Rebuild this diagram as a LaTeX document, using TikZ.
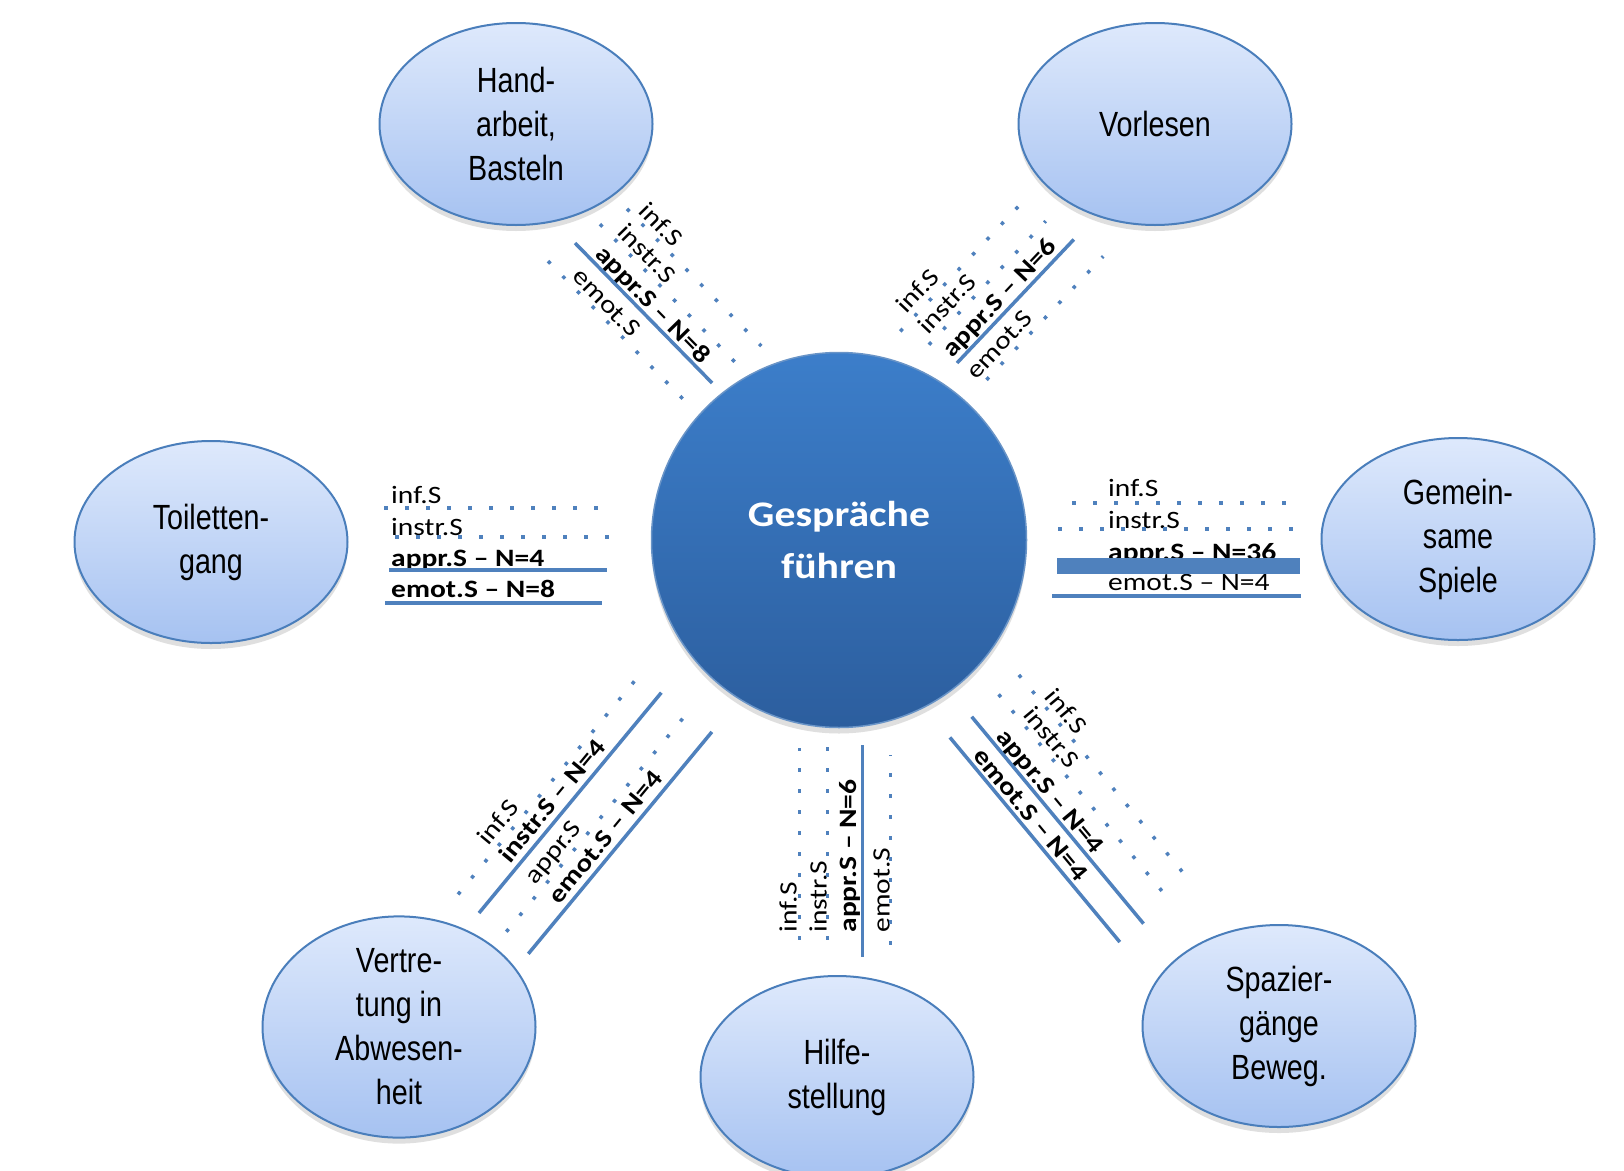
\documentclass[tikz,border=0pt]{standalone}
\usepackage{fontspec}
\usepackage{xcolor}
\usetikzlibrary{shapes,positioning,shadows}
\newfontfamily\ellfont[FakeStretch=0.82]{Liberation Sans}
\newfontfamily\lblfont[FakeStretch=1.18]{Carlito}
\newfontfamily\ctrfont[FakeStretch=1.16]{Carlito}
\definecolor{linie}{RGB}{79,129,189}
\definecolor{rand}{RGB}{74,126,187}
\definecolor{elloben}{RGB}{222,233,252}
\definecolor{ellunten}{RGB}{166,194,241}
\definecolor{kreisoben}{RGB}{60,126,202}
\definecolor{kreisunten}{RGB}{44,94,158}

\tikzset{
  taetigkeit/.style={ellipse, draw=rand, line width=2pt,
    top color=elloben, bottom color=ellunten,
    minimum width=273pt, minimum height=202pt, inner sep=0pt,
    align=center, font=\ellfont\fontsize{35}{44}\selectfont,
    drop shadow={opacity=0.25, shadow xshift=0pt, shadow yshift=-6pt}},
  punktlinie/.style={linie, line width=3.5pt, dash pattern=on 3.5pt off 17.5pt},
  volllinie/.style={linie, line width=3.5pt},
  balken/.style={linie, line width=16pt},
  beschr/.style={anchor=base west, inner sep=0pt,
    font=\lblfont\fontsize{25}{30}\selectfont},
  fett/.style={beschr, font=\lblfont\bfseries\fontsize{25}{30}\selectfont}
}

\begin{document}
\begin{tikzpicture}[x=1pt, y=-1pt]
  \clip (0,0) rectangle (1624,1170);
  \fill[white] (0,0) rectangle (1624,1170);

  % Mitte
  \node[circle, draw=linie!85!white, line width=1.5pt,
        top color=kreisoben, bottom color=kreisunten,
        minimum size=375pt,
        drop shadow={opacity=0.25, shadow xshift=0pt, shadow yshift=-6pt}]
        (mitte) at (839,540) {};
  \node[text=white, align=center,
        font=\ctrfont\bfseries\fontsize{36}{52.6}\selectfont]
        (gespraeche) at (mitte.center) {Gespräche\\führen};

  % Taetigkeiten
  \node[taetigkeit] (hand)  at (516,124)  {Hand-\\arbeit,\\Basteln};
  \node[taetigkeit] (vorl)  at (1155,124) {Vorlesen};
  \node[taetigkeit] (toil)  at (211,542)  {Toiletten-\\gang};
  \node[taetigkeit] (spiel) at (1458,539) {Gemein-\\same\\Spiele};
  \node[taetigkeit] (vert)  at (399,1027) {Vertre-\\tung in\\Abwesen-\\heit};
  \node[taetigkeit] (hilfe) at (837,1077) {Hilfe-\\stellung};
  \node[taetigkeit] (spaz)  at (1279,1026) {Spazier-\\gänge\\Beweg.};

  % Hand-arbeit, Basteln
  \begin{scope}[shift={(575,243)}, rotate=-45.6, transform shape]
    \node[beschr] (hand-inf)   at (22,-66) {inf.S};
    \node[beschr] (hand-instr) at (22,-36) {instr.S};
    \node[fett]   (hand-appr)  at (22,-5)  {appr.S – N=8};
    \node[beschr] (hand-emot)  at (22,27)  {emot.S};
    \draw[punktlinie] (12,-61) -- (204,-61);
    \draw[punktlinie] (4,-31) -- (198,-31);
    \draw[volllinie] (0,0) -- (196,0);
    \draw[punktlinie] (-6,32) -- (187,32);
  \end{scope}

  % Vorlesen
  \begin{scope}[shift={(957,363)}, rotate=46.6, transform shape]
    \node[beschr] (vorl-inf)   at (0,-70) {inf.S};
    \node[beschr] (vorl-instr) at (0,-40) {instr.S};
    \node[fett]   (vorl-appr)  at (0,-6)  {appr.S – N=6};
    \node[beschr] (vorl-emot)  at (0,26)  {emot.S};
    \draw[punktlinie] (-16,-63) -- (156,-63);
    \draw[punktlinie] (-6,-33) -- (164,-33);
    \draw[volllinie] (0,0) -- (170,0);
    \draw[punktlinie] (8,33) -- (178,33);
  \end{scope}

  % Toilettengang
  \begin{scope}[shift={(389,570)}, transform shape]
    \node[beschr] (toil-inf)   at (2,-67) {inf.S};
    \node[beschr] (toil-instr) at (2,-35) {instr.S};
    \node[fett]   (toil-appr)  at (2,-4)  {appr.S – N=4};
    \node[fett]   (toil-emot)  at (2,27)  {emot.S – N=8};
    \draw[punktlinie] (-5,-62) -- (211,-62);
    \draw[punktlinie] (6,-33) -- (220,-33);
    \draw[volllinie] (0,0) -- (218,0);
    \draw[volllinie] (-4,33) -- (213,33);
  \end{scope}

  % Gemeinsame Spiele
  \begin{scope}[shift={(1057,565.5)}, transform shape]
    \node[beschr] (spiel-inf)   at (51,-69.5) {inf.S};
    \node[beschr] (spiel-instr) at (51,-37.5) {instr.S};
    \node[fett]   (spiel-appr)  at (51,-5.5)  {appr.S – N=36};
    \node[beschr] (spiel-emot)  at (51,24.5)  {emot.S – N=4};
    \draw[punktlinie] (15,-62.5) -- (231,-62.5);
    \draw[punktlinie] (1,-36.5) -- (236,-36.5);
    \draw[balken] (0,0) -- (243,0);
    \draw[volllinie] (-5,30.5) -- (244,30.5);
  \end{scope}

  % Vertretung in Abwesenheit
  \begin{scope}[shift={(479,913)}, rotate=50.4, transform shape]
    \node[beschr] (vert-inf)   at (57,-35) {inf.S};
    \node[fett]   (vert-instr) at (57,-7)  {instr.S – N=4};
    \node[beschr] (vert-appr)  at (57,26)  {appr.S};
    \node[fett]   (vert-emot)  at (57,57)  {emot.S – N=4};
    \draw[punktlinie] (1,-28) -- (280,-28);
    \draw[volllinie] (0,0) -- (286,0);
    \draw[punktlinie] (3,33) -- (282,33);
    \draw[volllinie] (0,64) -- (288,64);
  \end{scope}

  % Hilfestellung
  \begin{scope}[shift={(862.7,956.7)}, rotate=90, transform shape]
    \node[beschr] (hilfe-inf)   at (24,-66) {inf.S};
    \node[beschr] (hilfe-instr) at (24,-36) {instr.S};
    \node[fett]   (hilfe-appr)  at (24,-6)  {appr.S – N=6};
    \node[beschr] (hilfe-emot)  at (24,27)  {emot.S};
    \draw[punktlinie] (17,-63) -- (209,-63);
    \draw[punktlinie] (17,-35) -- (211,-35);
    \draw[volllinie] (0,0) -- (212,0);
    \draw[punktlinie] (12,28) -- (202,28);
  \end{scope}

  % Spaziergaenge
  \begin{scope}[shift={(971.7,716.7)}, rotate=-50.3, transform shape]
    \node[beschr] (spaz-inf)   at (31,-68) {inf.S};
    \node[beschr] (spaz-instr) at (31,-40) {instr.S};
    \node[fett]   (spaz-appr)  at (31,-5)  {appr.S – N=4};
    \node[fett]   (spaz-emot)  at (31,25)  {emot.S – N=4};
    \draw[punktlinie] (-2,-63) -- (254,-63);
    \draw[punktlinie] (0,-35) -- (257,-35);
    \draw[volllinie] (0,0) -- (269,0);
    \draw[volllinie] (2,30) -- (268,30);
  \end{scope}
\end{tikzpicture}
\end{document}
